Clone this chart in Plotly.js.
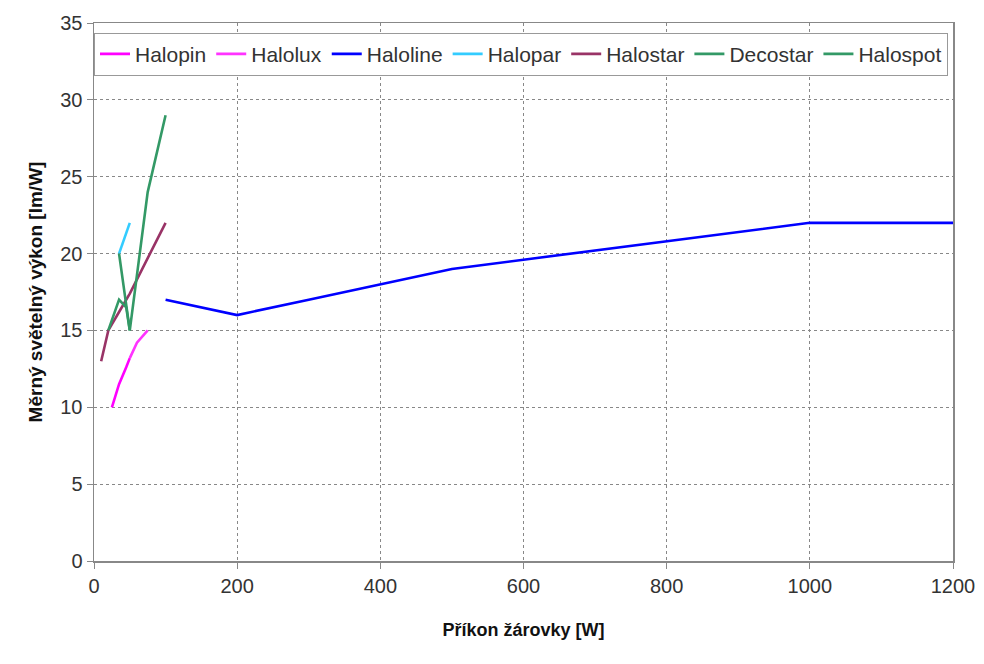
<!DOCTYPE html>
<html>
<head>
<meta charset="utf-8">
<script src="https://cdn.plot.ly/plotly-3.0.1.min.js"></script>
<style>html,body{margin:0;padding:0;background:#fff;}#chart{width:984px;height:664px;}</style>
</head>
<body>
<div id="chart"></div>
<script>
// Data
const seriesNames = ["Halopin", "Halolux", "Haloline", "Halopar", "Halostar", "Decostar", "Halospot"];
const halopinX = [25, 35, 45, 50];
const halopinY = [10, 11.5, 12.6, 13.2];
const haloluxX = [50, 60, 75];
const haloluxY = [13.2, 14.2, 15];
const halolineX = [100, 200, 300, 400, 500, 1000, 1200];
const halolineY = [17, 16, 17, 18, 19, 22, 22];
const haloparX = [35, 50];
const haloparY = [20, 22];
const halostarX = [10, 20, 35, 50, 100];
const halostarY = [13, 15, 16.2, 17.4, 22];
const decostarX = [20, 35, 45, 50];
const decostarY = [15, 17, 16.5, 15];
const halospotX = [35, 50, 75, 100];
const halospotY = [20, 15, 24, 29];
const xTicks = [0, 200, 400, 600, 800, 1000, 1200];
const yTicks = [0, 5, 10, 15, 20, 25, 30, 35];

const colors = ["#FF00FF", "#FF33FF", "#0000FF", "#33CCFF", "#993366", "#339966", "#339966"];
const xs = [halopinX, haloluxX, halolineX, haloparX, halostarX, decostarX, halospotX];
const ys = [halopinY, haloluxY, halolineY, haloparY, halostarY, decostarY, halospotY];

const traces = seriesNames.map((n, i) => ({
  type: "scatter", mode: "lines", name: n,
  x: xs[i], y: ys[i],
  line: {color: colors[i], width: 2.6}
}));

const layout = {
  width: 984, height: 664,
  margin: {l: 94, r: 31, t: 23, b: 103},
  paper_bgcolor: "#fff", plot_bgcolor: "#fff",
  font: {family: "Liberation Sans, Arial, sans-serif", color: "#333"},
  showlegend: true,
  legend: {
    orientation: "h", x: 0, xanchor: "left", y: 0.982, yanchor: "top",
    bgcolor: "#fff", bordercolor: "#999", borderwidth: 1,
    font: {size: 21, color: "#333"}, itemwidth: 30, tracegroupgap: 0
  },
  xaxis: {
    range: [0, 1200], tickvals: xTicks, ticktext: xTicks.map(String),
    showline: true, linecolor: "#888", linewidth: 1.5, mirror: true,
    ticks: "outside", ticklen: 6, tickcolor: "#888",
    showgrid: true, gridcolor: "#888", griddash: "3px,3px", gridwidth: 1,
    zeroline: false, tickfont: {size: 20, color: "#333"},
    title: {text: "Příkon žárovky [W]", font: {size: 18, color: "#111", family: "Liberation Sans, Arial, sans-serif", weight: "bold"}, standoff: 28}
  },
  yaxis: {
    range: [0, 35], tickvals: yTicks, ticktext: yTicks.map(String),
    showline: true, linecolor: "#888", linewidth: 1.5, mirror: true,
    ticks: "outside", ticklen: 6, tickcolor: "#888",
    showgrid: true, gridcolor: "#888", griddash: "3px,3px", gridwidth: 1,
    zeroline: false, tickfont: {size: 20, color: "#333"},
    title: {text: "Měrný světelný výkon [lm/W]", font: {size: 19, color: "#111", family: "Liberation Sans, Arial, sans-serif", weight: "bold"}, standoff: 12}
  }
};

Plotly.newPlot("chart", traces, layout, {displayModeBar: false, staticPlot: true});
</script>
</body>
</html>
